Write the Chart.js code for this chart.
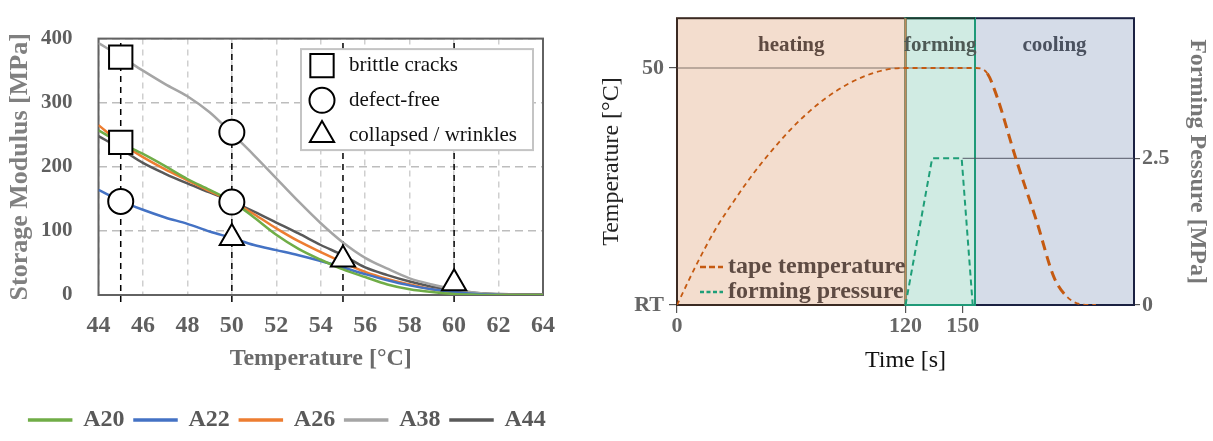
<!DOCTYPE html>
<html>
<head>
<meta charset="utf-8">
<title>Storage modulus and forming cycle</title>
<script src="https://cdn.jsdelivr.net/npm/chart.js@4.4.1/dist/chart.umd.min.js"></script>
<style>
  html, body { margin: 0; padding: 0; background: #fff; overflow: hidden; }
  #wrap { position: relative; width: 1213px; height: 441px; overflow: hidden; }
  #left { position: absolute; left: 0; top: 0; width: 575px; height: 455px; }
  #right { position: absolute; left: 575px; top: 0; width: 638px; height: 441px; }
</style>
</head>
<body>
<div id="wrap">
  <div id="left"><canvas id="modulusChart"></canvas></div>
  <div id="right"><canvas id="processChart"></canvas></div>
</div>
<script>
// ---- left chart data: storage modulus [MPa] vs temperature [°C]
let temps = [44, 45, 46, 47, 48, 49, 50, 51, 52, 53, 54, 55, 56, 57, 58, 59, 60, 61, 62, 63, 64];
let seriesNames = ["A20", "A22", "A26", "A38", "A44"];
let a20 = [257, 237, 220, 201, 181, 164, 146, 121, 94, 72, 55, 40, 28, 16.5, 9, 4.5, 1.5, 0.5, 0, 0, 0];
let a22 = [164, 147, 133, 121, 111, 99, 89, 78, 70, 62, 53, 43, 32.5, 23, 15, 9, 4.5, 1.5, 0.5, 0, 0];
let a26 = [265, 237, 215, 196, 179, 162, 146, 126, 104, 84, 67, 51, 36, 25, 16.5, 9, 4.5, 1, 0, 0, 0];
let a38 = [393, 372, 350, 329, 310, 285, 252, 218, 182, 146, 112, 82, 58, 41, 26, 16.5, 9, 3.5, 1, 0.5, 0.5];
let a44 = [248, 228, 206, 189, 174, 160, 146, 130, 113, 96, 78, 62, 43, 31, 21, 13, 7, 3, 1.5, 1, 1];
let seriesValues = [a20, a22, a26, a38, a44];

// forming trials: [temperature, modulus]
let markerTemps = [45, 50, 55, 60];
let brittleCracks = [[45, 371], [45, 238]];
let defectFree = [[45, 146], [50, 254], [50, 145]];
let collapsed = [[50, 89], [55, 55.5], [60, 18.5]];
let dropLineBottom = -11;

// ---- right chart data: process cycle
let phaseNames = ["heating", "forming", "cooling"];
let phaseBounds = [0, 120, 156.5, 240];
let tapeTime = [0, 10, 20, 30, 40, 50, 60, 70, 80, 90, 100, 110, 120, 140, 157, 163, 168, 178, 189, 198, 205, 212, 220];
let tapeTemp = [20, 25, 29.5, 33.2, 36.6, 39.6, 42.3, 44.6, 46.5, 48, 49.1, 49.8, 50, 50, 50, 49.3, 46.4, 38.5, 30.5, 23.5, 21, 20.1, 20];
let pressTime = [120, 134, 149.5, 155.3];
let pressValue = [0, 2.5, 2.5, 0];
let timeTicks = [0, 120, 150];
let tempTicks = [20, 50];        // 20 = RT
let pressureTicks = [0, 2.5];
let holdEnd = 155;

const serif = "'Liberation Serif', 'Times New Roman', serif";
const seriesColors = ["#70AD47", "#4472C4", "#ED7D31", "#A5A5A5", "#595959"];

function pts(xs, ys) {
    return xs.map((x, i) => ({ x: x, y: ys[i] }));
}
function pairs(list) {
    return list.map(p => ({ x: p[0], y: p[1] }));
}

// ================= left chart =================
let leftSets = [];

seriesNames.forEach((name, i) => {
    leftSets.push({
        label: name,
        data: pts(temps, seriesValues[i]),
        borderColor: seriesColors[i],
        backgroundColor: seriesColors[i],
        borderWidth: 2.5,
        pointRadius: 0,
        cubicInterpolationMode: "monotone",
        order: 1
    });
});

markerTemps.forEach(t => {
    leftSets.push({
        label: "drop " + t,
        data: [{ x: t, y: dropLineBottom }, { x: t, y: 400 }],
        borderColor: "#000",
        borderWidth: 1.5,
        borderDash: [6, 5],
        pointRadius: 0,
        clip: false,
        order: 2
    });
});

let markerSets = [
    { label: "brittle cracks", data: pairs(brittleCracks), pointStyle: "rect", pointRadius: 16.5 },
    { label: "defect-free", data: pairs(defectFree), pointStyle: "circle", pointRadius: 12.5 },
    { label: "collapsed / wrinkles", data: pairs(collapsed), pointStyle: "triangle", pointRadius: 14 }
];
markerSets.forEach(m => {
    leftSets.push(Object.assign(m, {
        showLine: false,
        pointBorderWidth: 2,
        pointBorderColor: "#000",
        pointBackgroundColor: "#fff",
        order: 0
    }));
});

const frame = {
    id: "frame",
    beforeDatasetsDraw(chart) {
        const { ctx, chartArea: ca } = chart;
        ctx.save();
        ctx.strokeStyle = "#626262";
        ctx.lineWidth = 2;
        ctx.strokeRect(ca.left, ca.top, ca.right - ca.left, ca.bottom - ca.top);
        ctx.restore();
    }
};

const markerLegend = {
    id: "markerLegend",
    afterDatasetsDraw(chart) {
        const { ctx, chartArea: ca } = chart;
        let w = 232, h = 101;
        let left = ca.right - 10 - w, top = ca.top + 10.5;
        ctx.save();
        ctx.fillStyle = "#fff";
        ctx.fillRect(left, top, w, h);
        ctx.strokeStyle = "#c4c4c4";
        ctx.lineWidth = 2;
        ctx.strokeRect(left, top, w, h);
        ctx.font = "21px " + serif;
        ctx.textBaseline = "middle";
        ctx.textAlign = "left";
        markerSets.forEach((m, i) => {
            let y = top + 16.5 + i * 34.7;
            ctx.fillStyle = "#fff";
            ctx.strokeStyle = "#000";
            ctx.lineWidth = 2;
            Chart.helpers.drawPoint(ctx, { pointStyle: m.pointStyle, radius: m.pointRadius, rotation: 0, borderWidth: 2 }, left + 21, y);
            ctx.fillStyle = "#111";
            ctx.fillText(m.label, left + 48, y);
        });
        ctx.restore();
    }
};

new Chart(document.getElementById("modulusChart"), {
    type: "line",
    data: { datasets: leftSets },
    options: {
        responsive: true,
        maintainAspectRatio: false,
        animation: false,
        events: [],
        layout: { padding: { top: 18.5, right: 0, left: 0, bottom: 13 } },
        plugins: {
            tooltip: { enabled: false },
            legend: {
                position: "bottom",
                labels: {
                    filter: item => seriesNames.includes(item.text),
                    boxWidth: 42,
                    boxHeight: 1,
                    padding: 10,
                    color: "#595959",
                    font: { family: serif, size: 24, weight: "bold" }
                }
            }
        },
        scales: {
            x: {
                type: "linear",
                min: 44,
                max: 64,
                ticks: { stepSize: 2, color: "#5f5f5f", padding: 16, maxRotation: 0, font: { family: serif, size: 24, weight: "bold" } },
                grid: { color: "#cfcfcf", lineWidth: 1.5, drawTicks: false },
                border: { display: false, dash: [6, 5] },
                title: { display: true, text: "Temperature [°C]", color: "#6a6a6a", padding: { top: 0, bottom: 24.6 }, font: { family: serif, size: 24, weight: "bold" } },
                afterFit: s => { s.height = 103; }
            },
            y: {
                min: 0,
                max: 400,
                ticks: { stepSize: 100, color: "#5f5f5f", padding: 26, font: { family: serif, size: 21, weight: "bold" } },
                grid: { color: "#bdbdbd", lineWidth: 1.5, drawTicks: false },
                border: { display: false, dash: [8, 5] },
                title: { display: true, text: "Storage Modulus [MPa]", color: "#808080", padding: { top: 5, bottom: 0 }, font: { family: serif, size: 26, weight: "bold" } },
                afterFit: s => { s.width = 98.5; }
            },
            // empty right margin, keeps the bottom legend full width
            yRight: {
                position: "right",
                min: 0,
                max: 400,
                ticks: { display: false },
                grid: { display: false },
                border: { display: false },
                afterFit: s => { s.width = 32; }
            }
        }
    },
    plugins: [frame, markerLegend]
});

// ================= right chart =================
const phaseFills = ["rgb(243,221,206)", "rgb(208,235,227)", "rgb(213,220,232)"];
const phaseText = ["#5f4b42", "#4e5a55", "#4b5260"];

const phases = {
    id: "phases",
    beforeDatasetsDraw(chart) {
        const { ctx, chartArea: ca, scales: { x } } = chart;
        let xs = phaseBounds.map(v => x.getPixelForValue(v));
        let h = ca.bottom - ca.top;
        ctx.save();
        phaseNames.forEach((n, i) => {
            ctx.fillStyle = phaseFills[i];
            ctx.fillRect(xs[i], ca.top, xs[i + 1] - xs[i], h);
        });
        ctx.lineWidth = 2;
        ctx.strokeStyle = "#3b2a22";
        ctx.strokeRect(xs[0], ca.top, xs[1] - xs[0], h);
        ctx.strokeStyle = "#1b2142";
        ctx.strokeRect(xs[2], ca.top, xs[3] - xs[2], h);
        ctx.strokeStyle = "#1f9a78";
        ctx.strokeRect(xs[1], ca.top, xs[2] - xs[1], h);
        ctx.beginPath();
        ctx.strokeStyle = "#1d3a31";
        ctx.moveTo(xs[1], ca.top);
        ctx.lineTo(xs[2], ca.top);
        ctx.stroke();
        ctx.beginPath();
        ctx.strokeStyle = "#bf8a5c";
        ctx.moveTo(xs[1], ca.top);
        ctx.lineTo(xs[1], ca.bottom);
        ctx.stroke();
        ctx.font = "bold 21px " + serif;
        ctx.textAlign = "center";
        ctx.textBaseline = "middle";
        phaseNames.forEach((n, i) => {
            ctx.fillStyle = phaseText[i];
            ctx.fillText(n, (xs[i] + xs[i + 1]) / 2, ca.top + 27);
        });
        ctx.restore();
    }
};

let legendLabels = ["tape temperature", "forming pressure"];
const processLegend = {
    id: "processLegend",
    afterDatasetsDraw(chart) {
        const { ctx, chartArea: ca } = chart;
        ctx.save();
        ctx.font = "bold 24px " + serif;
        ctx.textAlign = "left";
        ctx.textBaseline = "middle";
        legendLabels.forEach((lbl, i) => {
            let ds = chart.data.datasets.find(d => d.label === lbl);
            let y = ca.bottom - 38 + i * 25;
            ctx.beginPath();
            ctx.strokeStyle = ds.borderColor;
            ctx.lineWidth = 2.5;
            ctx.setLineDash(i === 0 ? [6, 3] : [4, 2.5]);
            ctx.moveTo(ca.left + 23, y);
            ctx.lineTo(ca.left + 46, y);
            ctx.stroke();
            ctx.setLineDash([]);
            ctx.fillStyle = "#5e4b43";
            ctx.fillText(lbl, ca.left + 51, y);
        });
        ctx.restore();
    }
};

new Chart(document.getElementById("processChart"), {
    type: "line",
    data: {
        datasets: [
            {
                label: "tape temperature",
                data: pts(tapeTime, tapeTemp),
                yAxisID: "y",
                borderColor: "#C55A11",
                borderWidth: 1.8,
                borderDash: [5, 4],
                pointRadius: 0,
                cubicInterpolationMode: "monotone",
                segment: {
                    borderWidth: c => (c.p0.parsed.x >= 163 && c.p1.parsed.x <= 205 ? 3 : 1.8),
                    borderDash: c => (c.p0.parsed.x >= 163 && c.p1.parsed.x <= 205 ? [10, 6] : [5, 4])
                },
                order: 0
            },
            {
                label: "forming pressure",
                data: pts(pressTime, pressValue),
                yAxisID: "y1",
                borderColor: "#1E9E78",
                borderWidth: 2,
                borderDash: [6, 4],
                pointRadius: 0,
                order: 0
            },
            {
                label: "temp ref",
                data: [{ x: timeTicks[0], y: tempTicks[1] }, { x: holdEnd, y: tempTicks[1] }],
                yAxisID: "y",
                borderColor: "rgba(95,80,75,0.75)",
                borderWidth: 1.2,
                pointRadius: 0,
                order: 1
            },
            {
                label: "pressure ref",
                data: [{ x: timeTicks[2], y: pressureTicks[1] }, { x: phaseBounds[3], y: pressureTicks[1] }],
                yAxisID: "y1",
                borderColor: "rgba(75,80,95,0.75)",
                borderWidth: 1.2,
                pointRadius: 0,
                order: 1
            }
        ]
    },
    options: {
        responsive: true,
        maintainAspectRatio: false,
        animation: false,
        events: [],
        layout: { padding: { top: 10, right: 0, left: 0, bottom: 66 } },
        plugins: { legend: { display: false }, tooltip: { enabled: false } },
        scales: {
            x: {
                type: "linear",
                min: phaseBounds[0],
                max: phaseBounds[3],
                afterBuildTicks: s => { s.ticks = timeTicks.map(v => ({ value: v })); },
                ticks: { color: "#666", padding: 0, maxRotation: 0, autoSkip: false, callback: v => String(v), font: { family: serif, size: 22, weight: "bold" } },
                grid: { drawOnChartArea: false, tickLength: 8, color: "#555", lineWidth: 1.2 },
                border: { display: false },
                title: { display: true, text: "Time [s]", color: "#111", padding: { top: 0, bottom: 0 }, font: { family: serif, size: 24 } },
                afterFit: s => { s.height = 70; }
            },
            y: {
                position: "left",
                min: 20,
                max: 56.3,
                afterBuildTicks: s => { s.ticks = tempTicks.map(v => ({ value: v })); },
                ticks: { color: "#666", padding: 5, autoSkip: false, callback: v => (v === 20 ? "RT" : String(v)), font: { family: serif, size: 22, weight: "bold" } },
                grid: { drawOnChartArea: false, tickLength: 8, color: "#555", lineWidth: 1.2 },
                border: { display: false },
                title: { display: true, text: "Temperature [°C]", color: "#222", padding: { top: 22, bottom: 0 }, font: { family: serif, size: 24 } },
                afterFit: s => { s.width = 102; }
            },
            y1: {
                position: "right",
                min: 0,
                max: 4.89,
                afterBuildTicks: s => { s.ticks = pressureTicks.map(v => ({ value: v })); },
                ticks: { color: "#666", padding: 2, autoSkip: false, callback: v => String(v), font: { family: serif, size: 22, weight: "bold" } },
                grid: { drawOnChartArea: false, tickLength: 6, color: "#555", lineWidth: 1.2 },
                border: { display: false },
                title: { display: true, text: "Forming Pessure [MPa]", color: "#777", padding: { top: 1, bottom: 0 }, font: { family: serif, size: 24, weight: "bold" } },
                afterFit: s => { s.width = 79; }
            }
        }
    },
    plugins: [phases, processLegend]
});
</script>
</body>
</html>
